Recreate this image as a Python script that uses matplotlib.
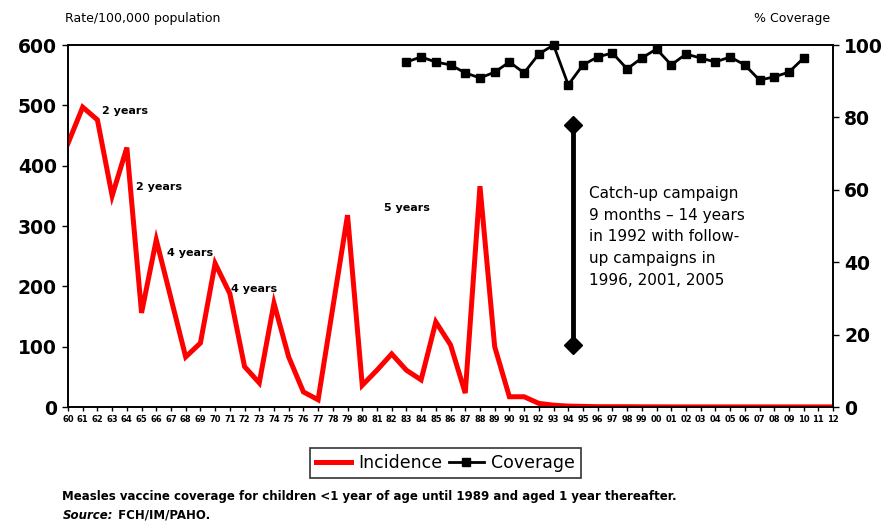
import numpy as np
import matplotlib.pyplot as plt
from matplotlib.lines import Line2D

# years on the category axis
years = list(range(1960, 2013))
year_labels = [str(y)[-2:] for y in years]

# measles incidence, rate per 100,000
incidence = [437, 497, 476, 350, 430, 156, 277, 180, 83, 106,
             238, 188, 67, 40, 172, 83, 25, 12, 165, 318,
             36, 61, 88, 61, 45, 141, 103, 23, 366, 100,
             17, 17, 6, 3, 1.5, 1, 0.5, 0.5, 0.5, 0.3,
             0.3, 0.2, 0.2, 0.2, 0.2, 0.2, 0.2, 0.2, 0.2, 0.2,
             0.2, 0.2, 0.2]

# vaccine coverage (%), 1983-2010
cov_years = list(range(1983, 2011))
coverage = [95.3, 96.7, 95.3, 94.5, 92.3, 90.9, 92.5, 95.3, 92.3, 97.5,
            100, 89, 94.5, 96.7, 97.8, 93.4, 96.4, 98.9, 94.5, 97.5,
            96.4, 95.3, 96.7, 94.5, 90.3, 91.2, 92.5, 96.4]

period_notes = [("2 years", 1962.3, 490), ("2 years", 1964.6, 365),
                ("4 years", 1966.7, 255), ("4 years", 1971.1, 195),
                ("5 years", 1981.5, 330)]

campaign_text = ("Catch-up campaign\n9 months \u2013 14 years\nin 1992 with follow-\n"
                 "up campaigns in\n1996, 2001, 2005")

fig = plt.figure(figsize=(8.91, 5.27), dpi=100)
ax = fig.add_axes([0.0763, 0.2277, 0.8587, 0.6869])
ax2 = ax.twinx()

ax.plot(years, incidence, color="#ff0000", lw=3.6, solid_joinstyle="miter", zorder=3)
ax2.plot(cov_years, coverage, color="black", lw=2, marker="s", ms=6, clip_on=False, zorder=4)

ax.set_xlim(years[0], years[-1])
ax.set_ylim(0, 600)
ax2.set_ylim(0, 100)
ax.set_yticks(range(0, 601, 100))
ax2.set_yticks(range(0, 101, 20))
ax.set_xticks(years)
ax.set_xticklabels(year_labels, fontsize=6, fontweight="bold")
ax.tick_params(axis="x", length=3, width=1, pad=3)
ax.tick_params(axis="y", labelsize=13.5, length=4, width=1, pad=4)
ax2.tick_params(axis="y", labelsize=13.5, length=4, width=1, pad=4)
for t in ax.get_yticklabels() + ax2.get_yticklabels():
    t.set_fontweight("bold")
for a in (ax, ax2):
    for s in a.spines.values():
        s.set_linewidth(1.2)

# period labels between outbreaks
for txt, x, y in period_notes:
    ax.text(x, y, txt, fontsize=8, fontweight="bold", ha="left", va="center")

# campaign marker + note
ax2.plot([1994.3, 1994.3], [17, 78], color="black", lw=3.5, marker="D", ms=9)
ax.text(1995.4, 198, campaign_text, fontsize=11, ha="left", va="bottom", linespacing=1.55)

fig.text(0.073, 0.965, "Rate/100,000 population", fontsize=9, va="center")
fig.text(0.932, 0.965, "% Coverage", fontsize=9, va="center", ha="right")

handles = [Line2D([], [], color="#ff0000", lw=3.6),
           Line2D([], [], color="black", lw=2, marker="s", ms=6)]
leg = fig.legend(handles, ["Incidence", "Coverage"], loc="center",
                 bbox_to_anchor=(0.5, 0.121), ncol=2, fontsize=12.5, frameon=True,
                 fancybox=False, edgecolor="black", handlelength=2.0,
                 handletextpad=0.4, columnspacing=0.4, borderpad=0.35)
leg.get_frame().set_linewidth(1.2)

fig.text(0.07, 0.057, "Measles vaccine coverage for children <1 year of age until 1989 "
         "and aged 1 year thereafter.", fontsize=8.5, fontweight="bold", va="center")
fig.text(0.07, 0.022, "Source:", fontsize=8.5, fontweight="bold", style="italic", va="center")
fig.text(0.128, 0.022, " FCH/IM/PAHO.", fontsize=8.5, fontweight="bold", va="center")

fig.savefig("out.png", dpi=100)
